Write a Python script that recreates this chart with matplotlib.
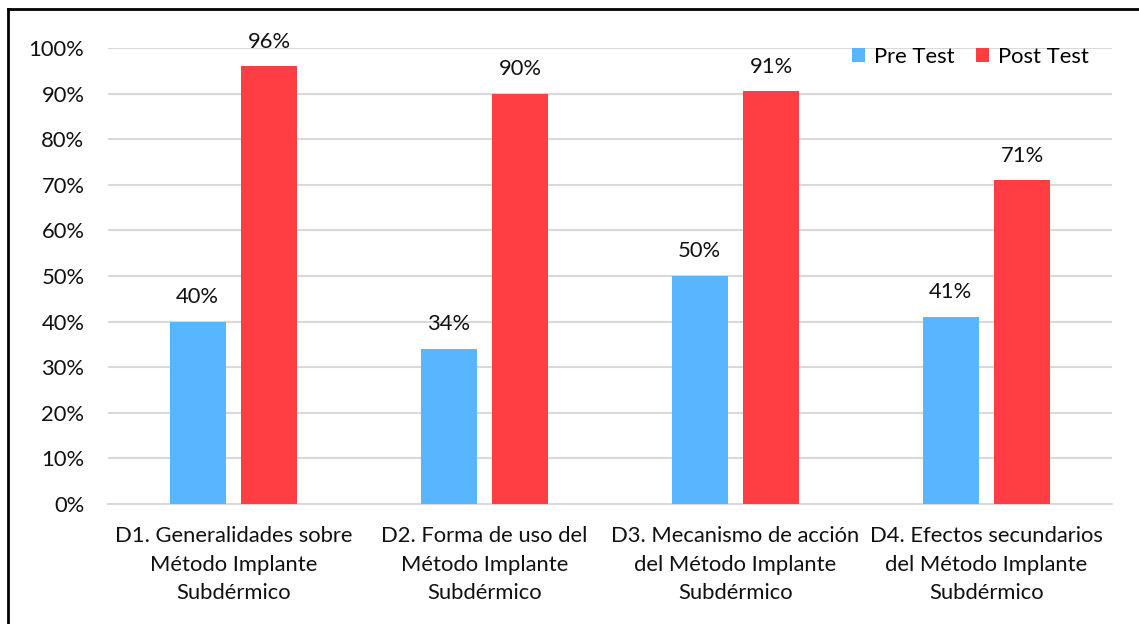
import matplotlib
matplotlib.use("Agg")
import matplotlib.pyplot as plt
from matplotlib.lines import Line2D
import numpy as np

categories = ["D1. Generalidades sobre\nMétodo Implante\nSubdérmico",
              "D2. Forma de uso del\nMétodo Implante\nSubdérmico",
              "D3. Mecanismo de acción\ndel Método Implante\nSubdérmico",
              "D4. Efectos secundarios\ndel Método Implante\nSubdérmico"]
pre_test = [40, 34, 50, 41]
post_test = [96, 90, 90.5, 71]
pre_labels = ["40%", "34%", "50%", "41%"]
post_labels = ["96%", "90%", "91%", "71%"]
yticks = [0, 10, 20, 30, 40, 50, 60, 70, 80, 90, 100]

plt.rcParams['font.family'] = ['Lato', 'DejaVu Sans']

fig = plt.figure(figsize=(11.39, 6.24), dpi=100)
ax = fig.add_axes([108/1139, 1-504/624, (1112-108)/1139, (504-48)/624])

x = np.arange(len(categories))
w = 0.223
off = 0.143
blue = "#58B6FE"
red = "#FE3E43"
fs = 15.8
ax.bar(x - off, pre_test, w, color=blue, label="Pre Test", zorder=3)
ax.bar(x + off, post_test, w, color=red, label="Post Test", zorder=3)

for xi, v, l in zip(x - off, pre_test, pre_labels):
    ax.text(xi, v + 3.2, l, ha="center", va="bottom", fontsize=fs, color="#111111")
for xi, v, l in zip(x + off, post_test, post_labels):
    ax.text(xi, v + 3.2, l, ha="center", va="bottom", fontsize=fs, color="#111111")

ax.set_xlim(-0.5, 3.5)
ax.set_ylim(0, 100)
ax.set_yticks(yticks)
ax.set_yticklabels([f"{t}%" for t in yticks], fontsize=fs, color="#111111")
ax.set_xticks(x)
ax.set_xticklabels(categories, fontsize=fs, color="#111111", linespacing=1.52)
ax.tick_params(axis="both", length=0)
ax.tick_params(axis="y", pad=17)
ax.tick_params(axis="x", pad=16)
ax.yaxis.grid(True, color="#D9D9D9", linewidth=1.5, zorder=0)
for s in ["top", "right", "left"]:
    ax.spines[s].set_visible(False)
ax.spines["bottom"].set_color("#D9D9D9")
ax.spines["bottom"].set_linewidth(1.5)

leg = fig.legend(*ax.get_legend_handles_labels(), loc="center right",
                 bbox_to_anchor=(1089/1139, 1-57/624), ncol=2, frameon=False,
                 fontsize=fs, handlelength=0.6, handleheight=0.6, handletextpad=0.4,
                 columnspacing=1.0, borderaxespad=0, borderpad=0)

fig.add_artist(Line2D([8/1139, 8/1139], [0, 1-9/624], color="black", linewidth=2, transform=fig.transFigure))
fig.add_artist(Line2D([8/1139, 1], [1-9/624, 1-9/624], color="black", linewidth=2, transform=fig.transFigure))

fig.savefig("out.png", dpi=100)
